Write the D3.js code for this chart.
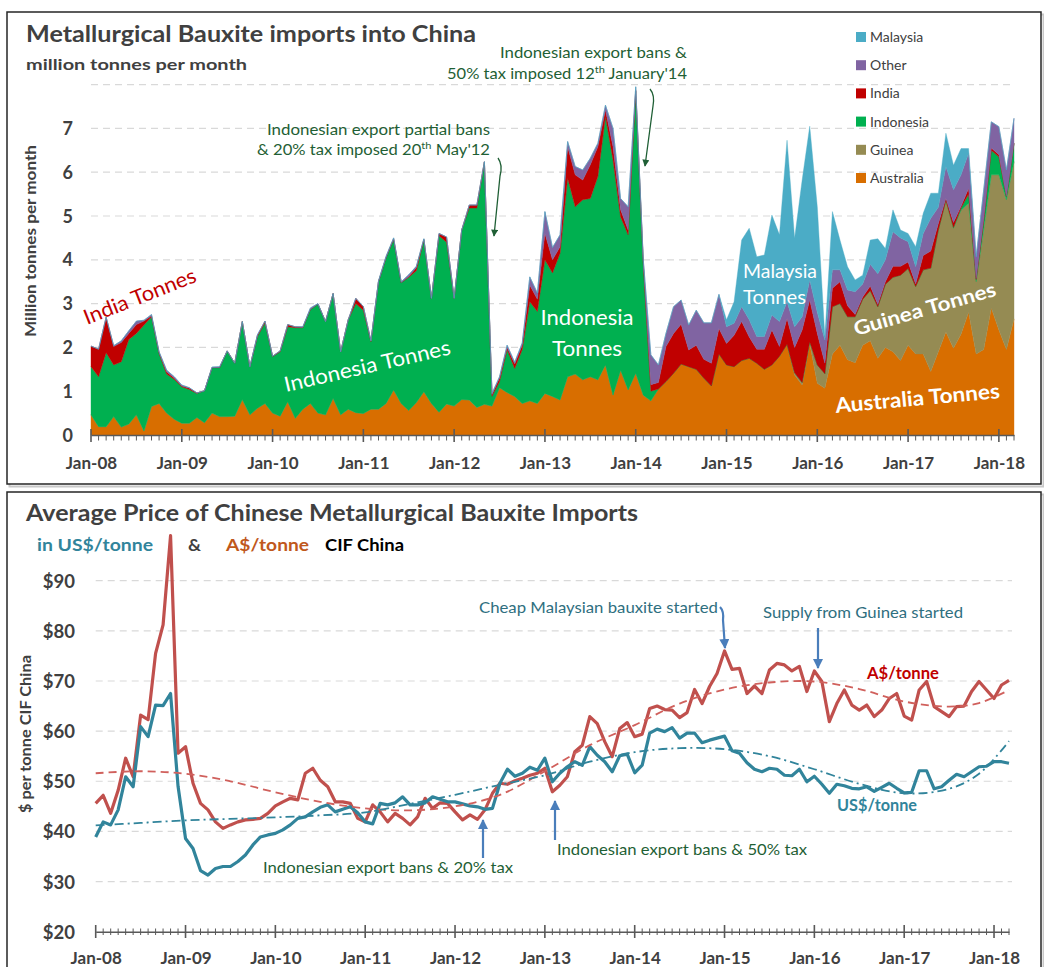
<!DOCTYPE html>
<html><head><meta charset="utf-8">
<script src="https://cdn.jsdelivr.net/npm/d3@7"></script>
<style>
body{margin:0;background:#fff;}
svg text{font-family:Lato,"Open Sans","DejaVu Sans",sans-serif;}
</style></head><body>
<svg id="c" width="1044" height="967"></svg>
<script>
// ---------------- DATA ----------------
const tickLabels = ["Jan-08","Jan-09","Jan-10","Jan-11","Jan-12","Jan-13","Jan-14","Jan-15","Jan-16","Jan-17","Jan-18"];
const nMonths = 123; // Jan-08 .. Mar-18

// Monthly imports, million tonnes
const australia = [.46,.19,.19,.42,.18,.25,.46,.09,.65,.72,
 .5,.36,.27,.27,.4,.28,.5,.42,.42,.43,
 .81,.46,.61,.72,.5,.43,.76,.38,.59,.72,
 .5,.46,.84,.46,.59,.51,.49,.59,.59,.72,
 1.03,.72,.56,.74,.99,.72,.52,.71,.66,.81,
 .8,.63,.7,.66,1.08,.97,.88,.72,.78,.72,
 .95,.88,.8,1.33,1.39,1.26,1.33,1.26,1.6,.91,
 1.48,1.03,1.41,.91,.78,1.05,1.22,1.41,1.62,1.56,
 1.5,1.3,1.12,1.85,1.6,1.56,1.7,1.75,1.64,1.5,
 1.6,1.8,2.07,1.37,1.14,2.09,1.18,1.07,1.85,2.05,
 1.72,1.65,2.05,2.15,1.75,2.0,1.9,1.7,2.05,1.85,
 1.85,1.45,1.9,2.35,1.98,2.3,2.8,1.85,1.95,2.9,
 2.4,1.95,2.65];
const guinea = [0,0,0,0,0,0,0,0,0,0, 0,0,0,0,0,0,0,0,0,0,
 0,0,0,0,0,0,0,0,0,0, 0,0,0,0,0,0,0,0,0,0,
 0,0,0,0,0,0,0,0,0,0, 0,0,0,0,0,0,0,0,0,0,
 0,0,0,0,0,0,0,0,0,0, 0,0,0,0,0,0,0,0,0,0,
 0,0,0,0,0,0,0,0,0,0, 0,0,0,.05,.06,.04,.42,.33,1.08,.95,
 .98,1.05,1.05,1.15,1.18,1.44,1.7,1.95,1.75,1.54,
 1.92,2.36,2.78,3.01,2.74,2.83,2.49,1.65,2.75,3.04,
 3.54,3.42,3.59];
const indonesia = [1.10,1.14,1.69,1.18,1.49,1.93,1.86,2.42,2.05,1.14,
 .89,.91,.83,.77,.55,.73,1.04,1.12,1.5,1.21,
 1.78,1.10,1.64,1.84,1.29,1.47,1.71,2.07,1.86,2.15,
 2.49,2.13,2.39,1.44,2.04,2.49,2.36,1.54,2.91,3.33,
 3.44,2.76,3.04,3.01,3.46,2.4,4.03,3.69,2.46,3.87,
 4.38,4.55,5.53,.22,.14,.98,.64,1.23,2.26,2.10,
 3.05,2.82,3.35,4.53,3.82,4.11,4.07,4.64,5.67,5.37,
 3.5,3.54,6.44,2.99,.22,0,0,0,0,0,
 0,0,0,0,0,0,0,0,0,0, 0,0,0,0,0,0,0,0,0,0,
 0,0,0,0,0,0,0,0,0,0, 0,0,0,0,.02,.05,.21,.05,.2,.56,
 .41,.08,.42];
const india = [.47,.63,.81,.42,.44,.14,.20,.09,.02,.02,
 .05,.03,.02,.03,.01,0,0,0,0,0,
 0,0,.02,.04,.01,.02,.05,.02,.01,0,
 0,0,0,0,0,.12,.08,.02,0,0,
 .01,0,.02,.07,.02,0,.05,.12,0,0,
 .07,.07,.01,.04,.08,.05,.10,.10,.38,.28,
 .6,.3,.15,.72,.73,.45,.77,.68,.15,.3,
 .16,.11,.03,.05,.15,.15,.8,.91,.91,.38,
 .55,.43,.52,.58,.49,.72,.89,.49,.32,.46,
 .8,.22,.59,.58,1.2,.95,.72,.24,.42,.5,
 .25,.05,.05,.1,.05,.06,.25,.2,.15,.06,
 .33,.39,.15,.04,.11,.04,.13,.02,.05,.05,
 .05,0,0];
const other = [0,0,0,.02,.04,.06,.08,.02,.03,.02,
 .04,.03,.02,.01,0,0,.01,.02,0,0,
 0,0,.02,0,0,0,0,0,.01,.03,
 .01,0,0,0,0,0,0,0,.02,.03,
 .02,.02,.04,.03,.01,0,0,0,0,0,
 0,0,0,.03,.03,.05,.04,.05,.19,.14,
 .5,.28,.27,.12,.19,.23,.15,.08,.11,.42,
 .26,.53,.07,.05,.68,.4,.3,.61,.55,.57,
 .8,.83,.92,.78,.38,.27,.34,.39,.29,.29,
 .34,.57,.38,.47,.3,.46,.48,.53,.42,.27,
 .36,.52,.3,.5,.7,.5,.79,.65,.46,.39,
 .5,.75,.37,.73,.75,.72,.8,.5,.65,.6,
 .64,.6,.57];
const malaysia = [0,0,0,0,0,0,0,0,0,0, 0,0,0,0,0,0,0,0,0,0,
 0,0,0,0,0,0,0,0,0,0, 0,0,0,0,0,0,0,0,0,0,
 0,0,0,0,0,0,0,0,0,0, 0,0,0,0,0,0,0,0,0,0,
 0,0,0,0,0,0,0,0,0,0, 0,0,0,0,0,0,0,0,0,0,
 0,0,0,0,.16,.49,1.52,2.09,1.82,1.86,
 2.28,1.98,3.69,2.02,3.12,3.51,2.41,.08,1.33,.68,
 .53,.27,.2,.55,.8,.26,.5,.18,.19,.46,
 .46,.57,.32,.76,.56,.6,.11,0,0,0,
 0,0,0];

// Average price, $/tonne CIF China
const priceAUD = [45.6,47.2,43.6,48.2,54.6,50.9,63.2,62.3,75.5,81.2,
 99,55.6,56.9,49.6,45.6,44.3,41.9,40.6,41.3,41.9,
 42.3,42.4,42.6,43.6,45.1,45.9,46.6,46.3,51.6,52.6,
 50.2,48.9,45.9,45.9,45.6,42.6,41.9,45.3,43.9,41.9,
 43.6,42.6,41.3,42.9,46.6,44.6,45.7,45.6,43.9,42.3,
 43.3,42.4,44.3,47.6,49.6,49.4,50.1,50.6,51.2,51.6,
 52.6,47.9,49.2,50.9,55.9,57.2,62.9,61.5,57.9,54.9,
 60.5,61.7,58.9,59.4,64.5,65.0,64.3,64.2,62.7,63.7,
 68.3,65.5,68.9,71.5,76.0,72.3,72.5,67.5,69.0,67.5,
 72.2,73.5,73.2,72.0,72.9,67.9,72.0,69.9,61.9,65.5,
 68.2,65.2,64.2,65.2,62.9,64.2,66.5,67.5,63.0,62.2,
 68.2,69.9,64.9,63.9,62.9,64.9,65.0,67.9,69.9,68.2,
 66.5,69.2,70.1];
const priceUSD = [38.9,41.9,41.3,44.3,50.9,48.9,60.9,58.9,65.2,65.1,
 67.5,49,38.6,36.6,32.2,31.3,32.6,33.0,33.0,34.0,
 35.3,37.3,38.9,39.3,39.6,40.3,41.3,42.6,42.9,43.9,
 44.8,45.3,43.9,44.4,44.9,43.7,41.9,41.5,45.6,45.3,
 45.7,46.9,45.3,45.3,45.7,46.9,46.4,45.9,45.9,45.5,
 45.1,44.9,44.4,44.6,49.6,52.4,51.0,51.6,52.8,52.2,
 54.6,49.9,51.6,52.9,53.9,53.2,56.9,55.2,53.9,51.9,
 55.1,55.4,51.7,53.2,59.6,60.4,59.9,60.7,58.6,59.6,
 59.6,57.7,58.2,58.6,59.0,56.1,55.6,53.7,52.4,51.9,
 52.6,52.4,51.2,51.1,52.4,49.9,51.0,49.4,47.6,49.4,
 49.1,48.6,48.5,48.9,48.0,48.8,49.6,48.6,47.7,47.8,
 52.1,52.1,48.5,48.9,50.2,51.4,50.9,51.9,52.9,53.0,
 53.9,53.9,53.6];

// Trendlines as drawn in the chart (read at these month indexes)
const trendMonths = [0,6,12,18,24,30,36,42,48,54,60,66,72,78,84,90,96,102,108,114,118,122];
const trendAUD = [51.6,52.0,51.5,50.0,47.8,45.9,44.6,44.2,45.0,47.3,52.0,57.2,61.2,65.5,68.3,69.7,69.9,68.4,65.9,64.9,65.6,68.2];
const trendUSD = [41.2,41.7,42.2,42.5,42.8,43.2,43.8,45.5,47.3,49.3,51.2,53.9,55.8,56.6,56.4,55.0,52.4,49.5,47.6,48.5,51.5,58.0];

const seriesKeys = ["Australia","Guinea","Indonesia","India","Other","Malaysia"];
const seriesColors = ["#d86e00","#958b53","#00b050","#c00000","#8064a2","#4bacc6"];
const legendOrder = ["Malaysia","Other","India","Indonesia","Guinea","Australia"];

// ---------------- SETUP ----------------
const svg = d3.select("#c");
const defs = svg.append("defs");
function marker(id, color, w, h){
  defs.append("marker").attr("id",id).attr("viewBox","0 0 10 10")
   .attr("refX",9).attr("refY",5).attr("markerUnits","userSpaceOnUse")
   .attr("markerWidth",w).attr("markerHeight",h).attr("orient","auto")
   .append("path").attr("d","M0,0 L10,5 L0,10 Z").attr("fill",color);
}
marker("arrG","#1f5f35",8,7);
marker("arrB","#4a7ebb",10,10);

function txt(x,y,s,o){
  const t = svg.append("text").attr("x",x).attr("y",y).text(s)
    .attr("font-size",o.size||15).attr("fill",o.fill||"#404040")
    .attr("font-weight",o.bold?"bold":"normal");
  if(o.len) t.attr("textLength",o.len).attr("lengthAdjust","spacingAndGlyphs");
  if(o.anchor) t.attr("text-anchor",o.anchor);
  if(o.rot!==undefined) t.attr("transform",`rotate(${o.rot},${x},${y})`);
  return t;
}

// panel frames with light shadow
[[7,12,1034,472],[7,492,1034,490]].forEach(([x,y,w,h])=>{
  svg.append("rect").attr("x",x+2.5).attr("y",y+2.5).attr("width",w).attr("height",h)
    .attr("fill","none").attr("stroke","#c8c8c8").attr("stroke-width",2);
  svg.append("rect").attr("x",x).attr("y",y).attr("width",w).attr("height",h)
    .attr("fill","#fff").attr("stroke","#262626").attr("stroke-width",1.5);
});

// ================= TOP CHART =================
const xT = d3.scaleLinear().domain([0,nMonths-1]).range([91,1014]);
const yT = d3.scaleLinear().domain([0,8]).range([435,84.6]);

svg.append("g").selectAll("line").data(d3.range(1,9)).join("line")
  .attr("x1",91).attr("x2",1014).attr("y1",d=>yT(d)).attr("y2",d=>yT(d))
  .attr("stroke","#d9d9d9").attr("stroke-width",1.2).attr("stroke-dasharray","7,5");

const rows = d3.range(nMonths).map(i=>({i,
  Australia:australia[i],Guinea:guinea[i],Indonesia:indonesia[i],
  India:india[i],Other:other[i],Malaysia:malaysia[i]}));
const stacked = d3.stack().keys(seriesKeys)(rows);
const area = d3.area().x(d=>xT(d.data.i)).y0(d=>yT(d[0])).y1(d=>yT(d[1]));
svg.append("g").selectAll("path").data(stacked).join("path")
  .attr("d",area).attr("fill",(d,k)=>seriesColors[k])
  .attr("stroke",(d,k)=>seriesColors[k]).attr("stroke-width",0.4);

svg.append("g").selectAll("text").data(d3.range(0,8)).join("text")
  .attr("x",73).attr("y",d=>yT(d)+6.5).attr("text-anchor","end")
  .attr("font-size",18).attr("font-weight","bold").attr("fill","#404040").text(d=>d);

const axT = svg.append("g").attr("transform","translate(0,435)")
  .call(d3.axisBottom(xT).tickValues(d3.range(0,121,12)).tickFormat((d,k)=>tickLabels[k]).tickSize(0).tickPadding(22));
axT.select(".domain").attr("stroke","#595959").attr("stroke-width",1.5);
axT.selectAll("text").attr("font-size",17).attr("font-weight","bold").attr("fill","#404040")
  .style("font-family","Lato,'Open Sans',sans-serif");
svg.append("g").selectAll("line").data(d3.range(0,nMonths)).join("line")
  .attr("x1",d=>xT(d)).attr("x2",d=>xT(d))
  .attr("y1",d=>d%12===0?429:435).attr("y2",d=>d%12===0?442:440.5)
  .attr("stroke","#595959").attr("stroke-width",d=>d%12===0?1.6:1);

txt(26,42,"Metallurgical Bauxite imports into China",{size:22,bold:true,len:450});
txt(26,70,"million tonnes per month",{size:16,bold:true,len:221});
txt(36,241,"Million tonnes per month",{size:14.5,bold:true,len:192,anchor:"middle",rot:-90});

const lg = svg.append("g");
legendOrder.forEach((k,j)=>{
  const y = 32 + j*28.2;
  lg.append("rect").attr("x",856).attr("y",y).attr("width",10).attr("height",10)
    .attr("fill",seriesColors[seriesKeys.indexOf(k)]);
  lg.append("text").attr("x",870).attr("y",y+10).attr("font-size",14).attr("fill","#404040").text(k);
});

const GREEN = "#1f5f35";
txt(267,135,"Indonesian export partial bans",{size:15,fill:GREEN,len:223});
{
  const t = svg.append("text").attr("x",257).attr("y",155).attr("font-size",15).attr("fill",GREEN)
    .attr("textLength",233).attr("lengthAdjust","spacingAndGlyphs");
  t.append("tspan").text("& 20% tax imposed 20");
  t.append("tspan").attr("font-size",10).attr("dy",-6).text("th");
  t.append("tspan").attr("dy",6).text(" May'12");
}
svg.append("path").attr("d","M498,158 Q503,165 500,176 L494,236")
  .attr("fill","none").attr("stroke",GREEN).attr("stroke-width",1.3).attr("marker-end","url(#arrG)");

txt(500,58,"Indonesian export bans &",{size:15,fill:GREEN,len:187});
{
  const t = svg.append("text").attr("x",447).attr("y",79).attr("font-size",15).attr("fill",GREEN)
    .attr("textLength",240).attr("lengthAdjust","spacingAndGlyphs");
  t.append("tspan").text("50% tax imposed 12");
  t.append("tspan").attr("font-size",10).attr("dy",-6).text("th");
  t.append("tspan").attr("dy",6).text(" January'14");
}
svg.append("path").attr("d","M650,89 Q655,95 653,106 L645,166")
  .attr("fill","none").attr("stroke",GREEN).attr("stroke-width",1.3).attr("marker-end","url(#arrG)");

txt(87,325,"India Tonnes",{size:21,fill:"#c00000",len:119,rot:-21.5});
txt(286,392,"Indonesia Tonnes",{size:21,fill:"#fff",len:170,rot:-12.9});
txt(587,325,"Indonesia",{size:22,fill:"#fff",anchor:"middle",len:93});
txt(587,356,"Tonnes",{size:22,fill:"#fff",anchor:"middle",len:70});
txt(743,278,"Malaysia",{size:19,fill:"#fff",len:74});
txt(743,304,"Tonnes",{size:19,fill:"#fff",len:63});
txt(856,336,"Guinea Tonnes",{size:20,bold:true,fill:"#fff",len:147,rot:-16});
txt(836,413,"Australia Tonnes",{size:21,bold:true,fill:"#fff",len:165,rot:-5.2});

// ================= BOTTOM CHART =================
const xB = d3.scaleLinear().domain([0,nMonths-1]).range([95.7,1009]);
const yB = d3.scaleLinear().domain([20,90]).range([931.7,580.7]);

svg.append("g").selectAll("line").data(d3.range(30,91,10)).join("line")
  .attr("x1",95.7).attr("x2",1012).attr("y1",d=>yB(d)).attr("y2",d=>yB(d))
  .attr("stroke","#d9d9d9").attr("stroke-width",1.2).attr("stroke-dasharray","7,5");

svg.append("g").selectAll("text").data(d3.range(20,91,10)).join("text")
  .attr("x",75).attr("y",d=>yB(d)+7).attr("text-anchor","end")
  .attr("font-size",18.5).attr("font-weight","bold").attr("fill","#404040").text(d=>"$"+d);

const axB = svg.append("g").attr("transform","translate(0,931.7)")
  .call(d3.axisBottom(xB).tickValues(d3.range(0,121,12)).tickFormat((d,k)=>tickLabels[k]).tickSize(0).tickPadding(20));
axB.select(".domain").attr("stroke","#595959").attr("stroke-width",1.5);
axB.selectAll("text").attr("font-size",17).attr("font-weight","bold").attr("fill","#404040")
  .style("font-family","Lato,'Open Sans',sans-serif");
svg.append("g").selectAll("line").data(d3.range(0,nMonths)).join("line")
  .attr("x1",d=>xB(d)).attr("x2",d=>xB(d))
  .attr("y1",d=>d%12===0?925:928.5).attr("y2",d=>d%12===0?938:935)
  .attr("stroke","#595959").attr("stroke-width",d=>d%12===0?1.6:1);

const line = d3.line().x((d,i)=>xB(i)).y(d=>yB(d));
svg.append("path").attr("d",line(priceAUD)).attr("fill","none")
  .attr("stroke","#c0504d").attr("stroke-width",3.2).attr("stroke-linejoin","round");
svg.append("path").attr("d",line(priceUSD)).attr("fill","none")
  .attr("stroke","#31849b").attr("stroke-width",3.2).attr("stroke-linejoin","round");

const tl = d3.line().x((d,k)=>xB(trendMonths[k])).y(d=>yB(d)).curve(d3.curveCatmullRom.alpha(0.5));
svg.append("path").attr("d",tl(trendAUD)).attr("fill","none")
  .attr("stroke","#d0605c").attr("stroke-width",1.8).attr("stroke-dasharray","8,5");
svg.append("path").attr("d",tl(trendUSD)).attr("fill","none")
  .attr("stroke","#31849b").attr("stroke-width",1.8).attr("stroke-dasharray","9,4,2,4");

txt(26,521,"Average Price of Chinese Metallurgical Bauxite Imports",{size:22,bold:true,len:612});
txt(37,551,"in US$/tonne",{size:17,bold:true,fill:"#31849b",len:116});
txt(188,551,"&",{size:17,bold:true,fill:"#404040",len:13});
txt(226,551,"A$/tonne",{size:17,bold:true,fill:"#c0581c",len:83});
txt(325,551,"CIF China",{size:17,bold:true,fill:"#000",len:79});
txt(31,734,"$ per tonne CIF China",{size:14.5,bold:true,len:158,anchor:"middle",rot:-90});

const TEAL = "#2f6f80";
txt(479,613,"Cheap Malaysian bauxite started",{size:15,fill:TEAL,len:239});
svg.append("path").attr("d","M720,607 Q724,611 723,620 L725,648")
  .attr("fill","none").attr("stroke","#4a7ebb").attr("stroke-width",2.2).attr("marker-end","url(#arrB)");
txt(763,618,"Supply from Guinea started",{size:15,fill:TEAL,len:200});
svg.append("path").attr("d","M818,628 L818,668")
  .attr("fill","none").attr("stroke","#4a7ebb").attr("stroke-width",2.2).attr("marker-end","url(#arrB)");
txt(867,679,"A$/tonne",{size:17,bold:true,fill:"#c00000",len:72});
txt(837,811,"US$/tonne",{size:17,bold:true,fill:"#31849b",len:80});
txt(263,873,"Indonesian export bans & 20% tax",{size:15,fill:GREEN,len:250});
svg.append("path").attr("d","M483,858 L483,820")
  .attr("fill","none").attr("stroke","#4a7ebb").attr("stroke-width",2.2).attr("marker-end","url(#arrB)");
txt(557,855,"Indonesian export bans & 50% tax",{size:15,fill:GREEN,len:250});
svg.append("path").attr("d","M555,840 L555,801")
  .attr("fill","none").attr("stroke","#4a7ebb").attr("stroke-width",2.2).attr("marker-end","url(#arrB)");
</script>
</body></html>
